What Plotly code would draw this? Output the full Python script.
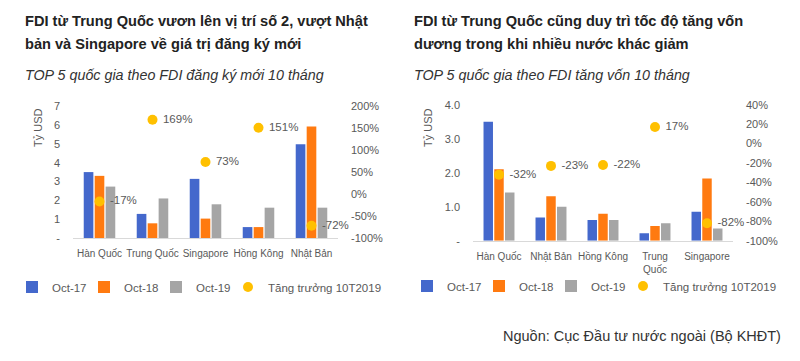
import plotly.graph_objects as go

# ---------------- data ----------------
cats_left = ["Hàn Quốc", "Trung Quốc", "Singapore", "Hồng Kông", "Nhật Bản"]
oct17_left = [3.5, 1.28, 3.14, 0.58, 4.98]
oct18_left = [3.3, 0.78, 1.03, 0.58, 5.92]
oct19_left = [2.73, 2.1, 1.79, 1.61, 1.61]
growth_left = [-17, 169, 73, 151, -72]

cats_right = ["Hàn Quốc", "Nhật Bản", "Hồng Kông", "Trung<br>Quốc", "Singapore"]
oct17_right = [3.5, 0.68, 0.61, 0.22, 0.85]
oct18_right = [2.1, 1.31, 0.79, 0.43, 1.83]
oct19_right = [1.42, 1.0, 0.61, 0.51, 0.36]
growth_right = [-32, -23, -22, 17, -82]

series_names = ["Oct-17", "Oct-18", "Oct-19"]
growth_name = "Tăng trưởng 10T2019"

left_ticks = [0, 1, 2, 3, 4, 5, 6, 7]
left_pct_ticks = [-100, -50, 0, 50, 100, 150, 200]
right_ticks = [0, 1, 2, 3, 4]
right_pct_ticks = [-100, -80, -60, -40, -20, 0, 20, 40]

# ---------------- style ----------------
W, H = 800, 361
BLUE, ORANGE, GRAY, YELLOW = "#4468CC", "#FF7A10", "#A5A5A5", "#FFC000"
TXT = "#595959"
FONT = "Liberation Sans"


def px(x):
    return x / W


def py(y):
    return 1 - y / H


fig = go.Figure()

colors = [BLUE, ORANGE, GRAY]

# left chart
for name, vals, c in zip(series_names, [oct17_left, oct18_left, oct19_left], colors):
    fig.add_trace(go.Bar(x=cats_left, y=vals, name=name, marker=dict(color=c, line=dict(width=0)),
                         xaxis="x", yaxis="y", legend="legend", offsetgroup=name))
fig.add_trace(go.Scatter(x=cats_left, y=growth_left, name=growth_name, mode="markers+text",
                         marker=dict(color=YELLOW, size=10),
                         text=[f" {v}%" for v in growth_left], textposition="middle right",
                         textfont=dict(color=TXT, size=11.5, family=FONT),
                         xaxis="x", yaxis="y2", legend="legend", legendwidth=130, cliponaxis=False))

# right chart
for name, vals, c in zip(series_names, [oct17_right, oct18_right, oct19_right], colors):
    fig.add_trace(go.Bar(x=cats_right, y=vals, name=name, marker=dict(color=c, line=dict(width=0)),
                         xaxis="x2", yaxis="y3", legend="legend2", offsetgroup=name))
fig.add_trace(go.Scatter(x=cats_right, y=growth_right, name=growth_name, mode="markers+text",
                         marker=dict(color=YELLOW, size=10),
                         text=[f" {v}%" for v in growth_right], textposition="middle right",
                         textfont=dict(color=TXT, size=11.5, family=FONT),
                         xaxis="x2", yaxis="y4", legend="legend2", legendwidth=130, cliponaxis=False))

tickfont = dict(color=TXT, size=11, family=FONT)
xfont = dict(color=TXT, size=10, family=FONT)

L_dom_x = [px(73), px(338)]
L_dom_y = [py(238), py(106)]
R_dom_x = [px(473), px(733)]
R_dom_y = [py(240.7), py(104.7)]

common_x = dict(showline=True, linecolor="#D9D9D9", linewidth=1, ticks="", tickfont=xfont,
                showgrid=False, ticklabelstandoff=6, tickangle=0, automargin=False, fixedrange=True)
common_y = dict(showgrid=False, zeroline=False, tickfont=tickfont, ticks="", ticklabelstandoff=12,
                automargin=False, fixedrange=True, ticklabeloverflow="allow")

fig.update_layout(
    width=W, height=H,
    margin=dict(l=0, r=0, t=0, b=0, autoexpand=False),
    paper_bgcolor="white", plot_bgcolor="white",
    font=dict(family=FONT, color=TXT),
    barmode="group", bargap=0.38, bargroupgap=0.12,
    xaxis=dict(domain=L_dom_x, anchor="y", **common_x),
    yaxis=dict(domain=L_dom_y, anchor="x", range=[0, 7.01], tickvals=left_ticks,
               ticktext=["-"] + [str(v) for v in left_ticks[1:]], **common_y),
    yaxis2=dict(overlaying="y", side="right", anchor="x", range=[-100, 200.4], tickvals=left_pct_ticks,
                ticktext=[f"{v}%" for v in left_pct_ticks], **common_y),
    xaxis2=dict(domain=R_dom_x, anchor="y3", **common_x),
    yaxis3=dict(domain=R_dom_y, anchor="x2", range=[0, 4], tickvals=right_ticks,
                ticktext=["-"] + [f"{v:.1f}" for v in right_ticks[1:]], **common_y),
    yaxis4=dict(overlaying="y3", side="right", anchor="x2", range=[-100, 40], tickvals=right_pct_ticks,
                ticktext=[f"{v}%" for v in right_pct_ticks], **common_y),
    legend=dict(orientation="h", x=px(12), xanchor="left", y=py(287), yanchor="middle",
                font=dict(color=TXT, size=11.5, family=FONT), itemwidth=30, entrywidth=27,
                bgcolor="rgba(0,0,0,0)", traceorder="normal"),
    legend2=dict(orientation="h", x=px(407), xanchor="left", y=py(286), yanchor="middle",
                 font=dict(color=TXT, size=11.5, family=FONT), itemwidth=30, entrywidth=27,
                 bgcolor="rgba(0,0,0,0)", traceorder="normal"),
)

ann = []
title_font = dict(family=FONT, size=14.6, color="#222222")
ann.append(dict(text="<b>FDI từ Trung Quốc vươn lên vị trí số 2, vượt Nhật</b>", x=px(23), y=py(21)))
ann.append(dict(text="<b>bản và Singapore về giá trị đăng ký mới</b>", x=px(23), y=py(44)))
ann.append(dict(text="<b>FDI từ Trung Quốc cũng duy trì tốc độ tăng vốn</b>", x=px(412), y=py(21)))
ann.append(dict(text="<b>dương trong khi nhiều nước khác giảm</b>", x=px(412), y=py(44)))
for a in ann:
    a.update(xref="paper", yref="paper", xanchor="left", yanchor="middle", showarrow=False, font=title_font)

sub_font = dict(family=FONT, size=14.3, color="#333333")
ann.append(dict(text="<i>TOP 5 quốc gia theo FDI đăng ký mới 10 tháng</i>", x=px(23), y=py(75),
                xref="paper", yref="paper", xanchor="left", yanchor="middle", showarrow=False, font=sub_font))
ann.append(dict(text="<i>TOP 5 quốc gia theo FDI tăng vốn 10 tháng</i>", x=px(412), y=py(75),
                xref="paper", yref="paper", xanchor="left", yanchor="middle", showarrow=False, font=sub_font))
ann.append(dict(text="Tỷ USD", x=px(38), y=py(128), textangle=-90,
                xref="paper", yref="paper", xanchor="center", yanchor="middle", showarrow=False,
                font=dict(family=FONT, size=11, color=TXT)))
ann.append(dict(text="Tỷ USD", x=px(428), y=py(128), textangle=-90,
                xref="paper", yref="paper", xanchor="center", yanchor="middle", showarrow=False,
                font=dict(family=FONT, size=11, color=TXT)))
ann.append(dict(text="Nguồn: Cục Đầu tư nước ngoài (Bộ KHĐT)", x=px(783), y=py(336),
                xref="paper", yref="paper", xanchor="right", yanchor="middle", showarrow=False,
                font=dict(family=FONT, size=14.5, color="#333333")))
fig.update_layout(annotations=ann)

fig.write_html("out.html", config={"displayModeBar": False},
               post_script="document.body.style.margin='0px';document.body.style.overflow='hidden';")
